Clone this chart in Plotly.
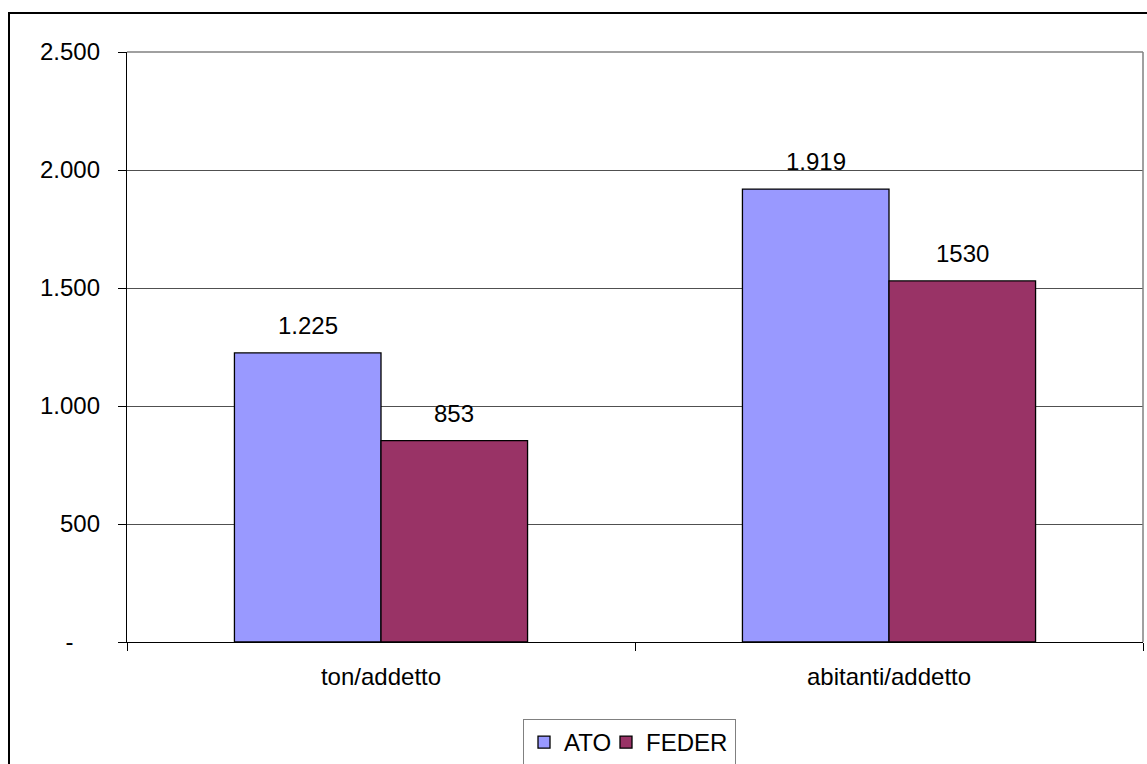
import plotly.graph_objects as go

# Categories and series values
categories = ["ton/addetto", "abitanti/addetto"]
ato_values = [1225, 1919]
feder_values = [853, 1530]
ato_labels = ["1.225", "1.919"]
feder_labels = ["853", "1530"]

# Y axis ticks
y_tick_values = [0, 500, 1000, 1500, 2000, 2500]
y_tick_labels = ["-\u00a0\u00a0\u00a0\u00a0", "500", "1.000", "1.500", "2.000", "2.500"]

FONT = "Liberation Sans, Arial, sans-serif"
W, H = 1147, 764
L, R, T, B = 127, 4, 52, 122
plot_w = W - L - R
plot_h = H - T - B

fig = go.Figure()
fig.add_trace(go.Bar(
    name="ATO", x=categories, y=ato_values, legendwidth=37,
    marker=dict(color="#9999FF", line=dict(color="black", width=1.3)),
))
fig.add_trace(go.Bar(
    name="FEDER", x=categories, y=feder_values, legendwidth=84,
    marker=dict(color="#993366", line=dict(color="black", width=1.3)),
))

bargap = 0.423
bar_px = plot_w / len(categories) * (1 - bargap) / 2

# Value labels above each bar
annotations = []
for cat, v, lab in zip(categories, ato_values, ato_labels):
    annotations.append(dict(x=cat, y=v, text=lab, showarrow=False, xref="x", yref="y",
                            xshift=-bar_px / 2, yshift=12, yanchor="bottom",
                            font=dict(family=FONT, size=24, color="black")))
for cat, v, lab in zip(categories, feder_values, feder_labels):
    annotations.append(dict(x=cat, y=v, text=lab, showarrow=False, xref="x", yref="y",
                            xshift=bar_px / 2, yshift=12, yanchor="bottom",
                            font=dict(family=FONT, size=24, color="black")))

def px_x(p):
    return (p - L) / plot_w

def px_y(p):
    return (H - B - p) / plot_h

shapes = [
    # plot area frame (top and right)
    dict(type="line", xref="paper", yref="paper", x0=0, x1=1, y0=1, y1=1,
         line=dict(color="#808080", width=1.5)),
    dict(type="line", xref="paper", yref="paper", x0=1, x1=1, y0=0, y1=1,
         line=dict(color="#808080", width=1.5)),
    # chart border
    dict(type="rect", xref="paper", yref="paper",
         x0=px_x(9), x1=px_x(1160), y0=px_y(13), y1=px_y(790),
         line=dict(color="black", width=2), fillcolor="rgba(0,0,0,0)"),
]

fig.update_layout(
    width=W, height=H,
    margin=dict(l=L, r=R, t=T, b=B, pad=0, autoexpand=False),
    paper_bgcolor="white", plot_bgcolor="white",
    barmode="group", bargap=bargap, bargroupgap=0,
    font=dict(family=FONT, size=24, color="black"),
    showlegend=True,
    legend=dict(orientation="h", x=px_x(523), xanchor="left", y=px_y(719), yanchor="top",
                bgcolor="white", bordercolor="#808080", borderwidth=1,
                font=dict(family=FONT, size=24, color="black"),
                itemwidth=30, tracegroupgap=0),
    annotations=annotations,
    shapes=shapes,
)

fig.update_xaxes(
    showline=True, linecolor="black", linewidth=1.3,
    ticks="outside", tickson="boundaries", ticklen=8, tickcolor="black", tickwidth=1.3,
    showgrid=False, tickfont=dict(family=FONT, size=24, color="black"),
    ticklabelstandoff=13, automargin=False,
    fixedrange=True,
)
fig.update_yaxes(
    range=[0, 2500], tickvals=y_tick_values, ticktext=y_tick_labels,
    showline=True, linecolor="black", linewidth=1.3,
    ticks="outside", ticklen=8, tickcolor="black", tickwidth=1.3,
    showgrid=True, gridcolor="#505050", gridwidth=1,
    zeroline=False, ticklabelstandoff=13, automargin=False,
    tickfont=dict(family=FONT, size=24, color="black"),
    fixedrange=True,
)

fig.write_html("out.html")
